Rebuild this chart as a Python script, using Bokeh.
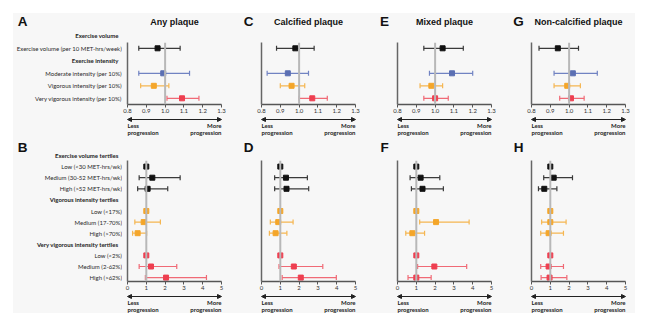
from bokeh.plotting import figure
from bokeh.models import Range1d, Span, Arrow, NormalHead, FixedTicker, Spacer, ColumnDataSource
from bokeh.layouts import column, row
from bokeh.core.properties import value
from bokeh.embed import file_html
from bokeh.resources import INLINE

NaN = float("nan")

# ---------------- data ----------------
top_titles = ["Any plaque", "Calcified plaque", "Mixed plaque", "Non-calcified plaque"]
top_letters = ["A", "C", "E", "G"]
bottom_letters = ["B", "D", "F", "H"]

top_headers = ["Exercise volume", "Exercise intensity"]
top_labels = ["Exercise volume (per 10 MET-hrs/week)", "Moderate intensity (per 10%)",
              "Vigorous intensity (per 10%)", "Very vigorous intensity (per 10%)"]
top_groups = ["volume", "moderate", "vigorous", "very_vigorous"]
top_ticks = [0.8, 0.9, 1.0, 1.1, 1.2, 1.3]

any_or = [0.96, 0.99, 0.94, 1.09]
any_lo = [0.86, 0.86, 0.87, 1.01]
any_hi = [1.08, 1.13, 1.02, 1.18]
calc_or = [0.98, 0.94, 0.96, 1.07]
calc_lo = [0.88, 0.83, 0.90, 1.00]
calc_hi = [1.08, 1.05, 1.03, 1.15]
mixed_or = [1.04, 1.09, 0.98, 1.00]
mixed_lo = [0.94, 0.97, 0.92, 0.94]
mixed_hi = [1.15, 1.20, 1.04, 1.07]
noncalc_or = [0.94, 1.02, 0.99, 1.01]
noncalc_lo = [0.84, 0.92, 0.92, 0.95]
noncalc_hi = [1.05, 1.15, 1.06, 1.08]

bottom_headers = ["Exercise volume tertiles", "Vigorous intensity tertiles", "Very vigorous intensity tertiles"]
bottom_labels = ["Low (<30 MET-hrs/wk)", "Medium (30-52 MET-hrs/wk)", "High (>52 MET-hrs/wk)",
                 "Low (<17%)", "Medium (17-70%)", "High (>70%)",
                 "Low (<2%)", "Medium (2-62%)", "High (>62%)"]
bottom_groups = ["volume"] * 3 + ["vigorous"] * 3 + ["very_vigorous"] * 3
bottom_ticks = [0, 1, 2, 3, 4, 5]

any_t_or = [1.0, 1.32, 1.07, 1.0, 0.86, 0.54, 1.0, 1.25, 2.05]
any_t_lo = [NaN, 0.62, 0.54, NaN, 0.39, 0.27, NaN, 0.62, 0.95]
any_t_hi = [NaN, 2.80, 2.14, NaN, 1.75, 1.02, NaN, 2.62, 4.20]
calc_t_or = [1.0, 1.30, 1.33, 1.0, 0.89, 0.75, 1.0, 1.72, 2.09]
calc_t_lo = [NaN, 0.70, 0.70, NaN, 0.47, 0.42, NaN, 0.93, 1.10]
calc_t_hi = [NaN, 2.44, 2.51, NaN, 1.68, 1.35, NaN, 3.26, 3.98]
mixed_t_or = [1.0, 1.23, 1.33, 1.0, 2.05, 0.79, 1.0, 1.96, 1.00]
mixed_t_lo = [NaN, 0.67, 0.74, NaN, 1.18, 0.44, NaN, 1.07, 0.56]
mixed_t_hi = [NaN, 2.25, 2.44, NaN, 3.81, 1.44, NaN, 3.68, 1.79]
noncalc_t_or = [1.0, 1.18, 0.68, 1.0, 1.00, 0.91, 1.0, 0.91, 0.96]
noncalc_t_lo = [NaN, 0.65, 0.37, NaN, 0.54, 0.49, NaN, 0.49, 0.51]
noncalc_t_hi = [NaN, 2.18, 1.35, NaN, 1.84, 1.70, NaN, 1.70, 1.88]

# ---------------- style / layout ----------------
marker_colors = {"volume": "#111111", "moderate": "#5b6fb3", "vigorous": "#f4a62a", "very_vigorous": "#ee3f50"}
line_colors = {"volume": "#3a3a3a", "moderate": "#7183c2", "vigorous": "#f5b651", "very_vigorous": "#f06a76"}
BG = "#f7f7f7"
FONT = "Lato"
TFONT = "Liberation Sans"

LABEL_W = 109
col_widths = [118, 136, 135, 124]      # plot columns (panel A/B column excludes label strip)
left_borders = [5, 21, 21, 20]
FRAME_W = 94
PB = 12                                 # room for x-axis below frame

TOP_H, TOP_TT, TOP_FH = 127, 29, 62
BOT_H, BOT_TT, BOT_FH = 173, 20, 121
TOP_ROW0, TOP_PITCH = 22.3, 12.5
BOT_ROW0, BOT_PITCH = 15.0, 11.1


def top_y(px):
    return (px - TOP_ROW0) / TOP_PITCH


def bot_y(px):
    return (px - BOT_ROW0) / BOT_PITCH


def rows_for(counts):
    headers, items, r = [], [], 0
    for cnt in counts:
        headers.append(r)
        r += 1
        for _ in range(cnt):
            items.append(r)
            r += 1
    return headers, items


top_header_rows, top_item_rows = rows_for([1, 3])
bot_header_rows, bot_item_rows = rows_for([3, 3, 3])


def blank(w, h, xr, yr):
    p = figure(width=w, height=h, x_range=xr, y_range=yr, output_backend="svg",
               toolbar_location=None, x_axis_location=None, y_axis_location=None, min_border=0)
    p.min_border_left = p.min_border_right = p.min_border_top = p.min_border_bottom = 0
    p.frame_align = False
    p.grid.visible = False
    p.outline_line_color = None
    p.background_fill_color = BG
    p.border_fill_color = BG
    return p


def txt(p, x, y, s, size="6px", bold=False, align="left", font=FONT, color="#222222"):
    p.text(x=[x], y=[y], text=[s], text_font=value(font), text_font_size=size,
           text_font_style="bold" if bold else "normal", text_align=align,
           text_baseline="middle", text_color=color)


def make_column(i, top, ors, los, his):
    w, lb = col_widths[i], left_borders[i]
    rb = w - lb - FRAME_W
    if top:
        H, TT, FH = TOP_H, TOP_TT, TOP_FH
        ymap = top_y
        x0, x1 = 0.8, 1.3
        ticks, groups, irows = top_ticks, top_groups, top_item_rows
    else:
        H, TT, FH = BOT_H, BOT_TT, BOT_FH
        ymap = bot_y
        x0, x1 = 0.0, 5.0
        ticks, groups, irows = bottom_ticks, bottom_groups, bot_item_rows
    ppu = FRAME_W / (x1 - x0)
    ext = (x0 - lb / ppu, x1 + rb / ppu)

    # --- title strip ---
    t = blank(w, TT, Range1d(*ext), Range1d(TT, 0))
    if top:
        txt(t, (x0 + x1) / 2, 8, top_titles[i], size="9px", bold=True, align="center", font=TFONT, color="#111111")
    if i > 0:
        letter = (top_letters if top else bottom_letters)[i]
        txt(t, x0 - 13 / ppu, 8 if top else 7, letter, size="13.5px", bold=True, align="center",
            font=TFONT, color="#111111")

    # --- plot ---
    p = figure(width=w, height=FH + PB, x_range=Range1d(x0, x1),
               y_range=Range1d(ymap(TT + FH), ymap(TT)), output_backend="svg", toolbar_location=None)
    p.min_border_left, p.min_border_right, p.min_border_top, p.min_border_bottom = lb, rb, 0, PB
    p.frame_align = False
    p.background_fill_color = BG
    p.border_fill_color = BG
    p.outline_line_color = None
    p.grid.visible = False

    p.xaxis.ticker = FixedTicker(ticks=ticks)
    if top:
        p.xaxis.major_label_overrides = {tk: f"{tk:.1f}" for tk in ticks}
    p.xaxis.axis_line_color = "#555555"
    p.xaxis.axis_line_width = 1.5
    p.xaxis.major_tick_line_color = "#555555"
    p.xaxis.major_tick_in = 0
    p.xaxis.major_tick_out = 3
    p.xaxis.minor_tick_line_color = None
    p.xaxis.minor_tick_out = 0
    p.xaxis.major_label_text_font = FONT
    p.xaxis.major_label_text_font_size = "6px"
    p.xaxis.major_label_text_color = "#333333"
    p.xaxis.major_label_standoff = 1

    p.yaxis.ticker = FixedTicker(ticks=[])
    p.yaxis.axis_line_color = "#666666"
    p.yaxis.axis_line_width = 1.5
    p.yaxis.major_tick_line_color = None
    p.yaxis.minor_tick_line_color = None
    p.yaxis.major_tick_out = 0
    p.yaxis.minor_tick_out = 0
    p.yaxis.major_label_standoff = 0

    p.add_layout(Span(location=1.0, dimension="height", line_color="#b8b8b8", line_width=2))

    src = ColumnDataSource(dict(y=irows, o=ors, lo=los, hi=his,
                                mc=[marker_colors[g] for g in groups],
                                lc=[line_colors[g] for g in groups]))
    p.segment(x0="lo", y0="y", x1="hi", y1="y", line_color="lc", line_width=1.2, source=src)
    p.scatter(x="lo", y="y", marker="dash", angle=1.5708, size=5, line_color="lc", line_width=1.2, source=src)
    p.scatter(x="hi", y="y", marker="dash", angle=1.5708, size=5, line_color="lc", line_width=1.2, source=src)
    p.scatter(x="o", y="y", marker="square", size=5, fill_color="mc", line_color="mc", source=src)

    # --- footer ---
    fh = H - TT - FH - PB
    f = blank(w, fh, Range1d(*ext), Range1d(fh, 0))
    ya = 3
    f.add_layout(Arrow(x_start=x0, y_start=ya, x_end=x1, y_end=ya, line_width=1, line_color="#222222",
                       start=NormalHead(size=4, fill_color="#222222", line_color="#222222"),
                       end=NormalHead(size=4, fill_color="#222222", line_color="#222222")))
    yl, yp = (9, 16) if top else (9, 15.5)
    txt(f, x0, yl, "Less", bold=True)
    txt(f, x0, yp, "progression", bold=True)
    txt(f, x1, yl, "More", bold=True, align="right")
    txt(f, x1, yp, "progression", bold=True, align="right")

    return column(t, p, f, spacing=0)


def make_labels(top):
    if top:
        H, ymap, hdrs, labs, hrows, irows = TOP_H, top_y, top_headers, top_labels, top_header_rows, top_item_rows
        letter, ly = top_letters[0], 8
    else:
        H, ymap, hdrs, labs, hrows, irows = BOT_H, bot_y, bottom_headers, bottom_labels, bot_header_rows, bot_item_rows
        letter, ly = bottom_letters[0], 7
    q = blank(LABEL_W, H, Range1d(0, LABEL_W), Range1d(ymap(H), ymap(0)))
    txt(q, 9, ymap(ly), letter, size="13.5px", bold=True, align="center", font=TFONT, color="#111111")
    for r, s in zip(hrows, hdrs):
        txt(q, LABEL_W - 4, r, s, bold=True, align="right")
    for r, s in zip(irows, labs):
        txt(q, LABEL_W - 0.5, r, s, align="right", color="#2a2a2a")
    return q


top_sets = [(any_or, any_lo, any_hi), (calc_or, calc_lo, calc_hi),
            (mixed_or, mixed_lo, mixed_hi), (noncalc_or, noncalc_lo, noncalc_hi)]
bot_sets = [(any_t_or, any_t_lo, any_t_hi), (calc_t_or, calc_t_lo, calc_t_hi),
            (mixed_t_or, mixed_t_lo, mixed_t_hi), (noncalc_t_or, noncalc_t_lo, noncalc_t_hi)]

top_row = row([make_labels(True)] + [make_column(i, True, *s) for i, s in enumerate(top_sets)],
              spacing=0, styles={"background-color": BG})
bot_row = row([make_labels(False)] + [make_column(i, False, *s) for i, s in enumerate(bot_sets)],
              spacing=0, styles={"background-color": BG})
panel = column(top_row, bot_row, spacing=0, styles={"background-color": BG})
layout = column(Spacer(width=646, height=13), row(Spacer(width=13, height=300), panel, spacing=0), spacing=0)

open("out.html", "w").write(file_html(layout, INLINE))
